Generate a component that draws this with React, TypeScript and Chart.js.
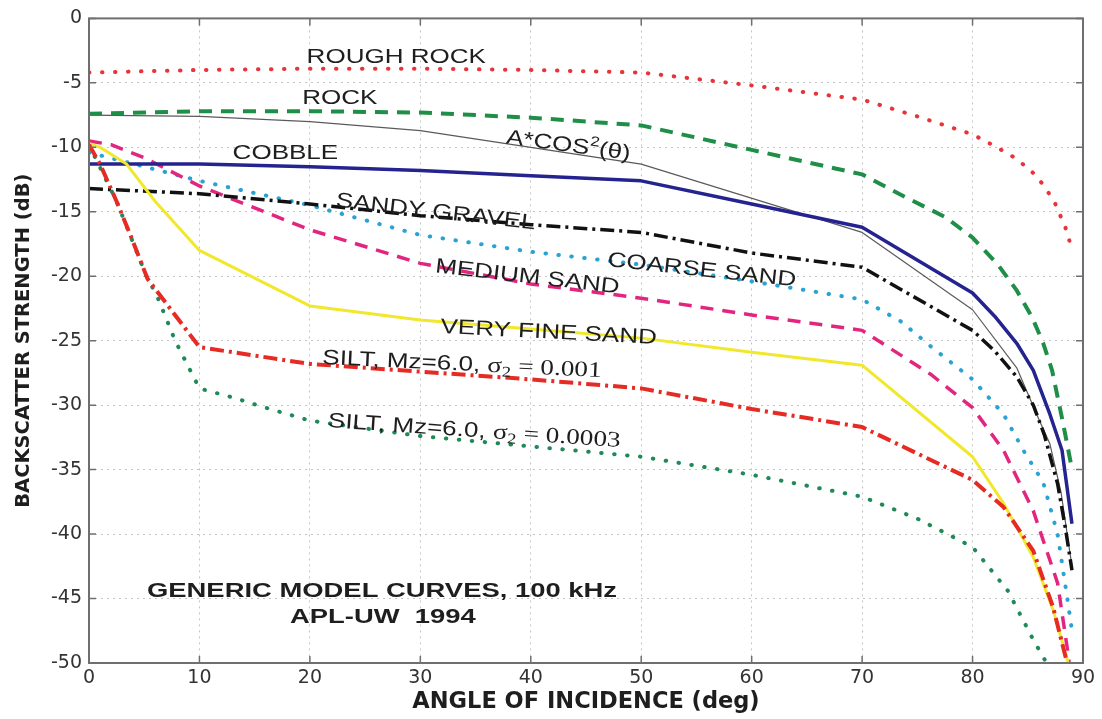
import React, { useEffect, useRef } from "react";
import { Chart, registerables } from "chart.js";

Chart.register(...registerables);

// ---- axes ----
const xTickValues = [0, 10, 20, 30, 40, 50, 60, 70, 80, 90];
const yTickValues = [0, -5, -10, -15, -20, -25, -30, -35, -40, -45, -50];

// ---- series (angle in deg, backscatter strength in dB) ----
const roughRockAngle = [0, 10, 20, 30, 40, 50, 60, 70, 75, 80, 82, 84, 85.5, 86.5, 87.5, 88.4, 89];
const roughRockDb = [-4.2, -4.0, -3.9, -3.9, -4.0, -4.2, -5.2, -6.3, -7.6, -9.0, -9.9, -10.9, -12.0, -13.0, -14.4, -16.2, -17.9];

const rockAngle = [0, 10, 20, 30, 40, 50, 60, 70, 74, 77.5, 80, 82.3, 84, 85.4, 86.4, 87.2, 88.1, 88.9];
const rockDb = [-7.4, -7.2, -7.2, -7.3, -7.7, -8.3, -10.2, -12.1, -13.9, -15.4, -17.0, -19.1, -21.1, -23.2, -25.2, -27.3, -31.0, -34.5];

const cosAngle = [0, 10, 20, 30, 50, 70, 80, 84, 86, 87, 88, 89];
const cosDb = [-7.5, -7.6, -8.0, -8.7, -11.3, -16.6, -22.6, -27.1, -31.1, -33.0, -36.7, -42.5];

const cobbleAngle = [0, 10, 20, 30, 40, 50, 60, 70, 80, 82, 84, 85.5, 87, 88.1, 89];
const cobbleDb = [-11.3, -11.3, -11.5, -11.8, -12.2, -12.6, -14.4, -16.2, -21.3, -23.1, -25.2, -27.3, -30.7, -33.5, -39.2];

const sandyGravelAngle = [0, 10, 20, 30, 40, 50, 60, 70, 80, 82, 84, 85.5, 86.5, 87.7, 88.4, 89];
const sandyGravelDb = [-13.2, -13.6, -14.4, -15.3, -16.0, -16.6, -18.2, -19.3, -24.2, -25.8, -27.8, -30.0, -32.3, -36.1, -39.5, -42.8];

const coarseSandAngle = [0, 10, 20, 30, 40, 50, 60, 70, 73.5, 76.3, 80, 82.8, 84.6, 86.4, 87.7, 88.6, 89];
const coarseSandDb = [-10.4, -12.6, -14.5, -16.8, -18.1, -19.1, -20.4, -21.8, -23.5, -25.5, -28.0, -30.7, -33.5, -36.0, -40.0, -45.1, -47.5];

const mediumSandAngle = [0, 2, 5, 10, 20, 30, 40, 50, 60, 70, 76.2, 80, 82.8, 85.5, 87.7, 88.6, 89.2];
const mediumSandDb = [-9.5, -9.8, -10.8, -13.0, -16.4, -19.0, -20.6, -21.7, -23.0, -24.2, -27.6, -30.2, -33.5, -38.2, -43.8, -49.0, -53.0];

const veryFineSandAngle = [0, 1, 3.4, 6, 10, 20, 30, 40, 50, 60, 70, 80, 82.8, 85.5, 87.3, 88.6, 89.2];
const veryFineSandDb = [-9.7, -10.0, -11.3, -14.2, -18.0, -22.3, -23.4, -24.1, -24.8, -25.9, -26.9, -34.0, -37.6, -41.8, -45.9, -49.8, -53.0];

const silt001Angle = [0, 1, 2.5, 3.7, 5.3, 10, 20, 30, 40, 50, 60, 70, 80, 82.8, 85.5, 87.3, 88.5, 89.2];
const silt001Db = [-9.8, -11.3, -14.2, -16.7, -20.2, -25.5, -26.8, -27.4, -28.0, -28.7, -30.3, -31.7, -35.8, -37.9, -41.3, -45.7, -49.8, -53.0];

const silt0003Angle = [0, 2.5, 5.3, 6.1, 7.8, 10, 13, 16, 20, 30, 40, 50, 60, 70, 75, 80, 83.2, 85.5, 86.7, 87.3];
const silt0003Db = [-9.8, -14.2, -20.2, -21.4, -25.0, -28.7, -29.4, -30.2, -31.2, -32.4, -33.2, -34.0, -35.4, -37.1, -38.8, -41.0, -44.4, -48.2, -50.0, -52.0];

// ---- text annotations (anchored at left baseline, in data coordinates) ----
const SANS = '"Liberation Sans", Arial, sans-serif';
const SERIF = '"Liberation Serif", "Times New Roman", serif';

type Part = { text: string; font: string; dy?: number };
type Note = { parts: Part[]; angle: number; db: number; rot: number; stretch: number };

const normal = (t: string): Part => ({ text: t, font: `21px ${SANS}` });
const bold = (t: string): Part => ({ text: t, font: `bold 20px ${SANS}` });

const notes: Note[] = [
  { parts: [normal("ROUGH ROCK")], angle: 19.7, db: -3.45, rot: 0, stretch: 1.24 },
  { parts: [normal("ROCK")], angle: 19.3, db: -6.65, rot: 0, stretch: 1.24 },
  { parts: [normal("COBBLE")], angle: 13.0, db: -10.9, rot: 0, stretch: 1.24 },
  {
    parts: [normal("A*COS"), { text: "2", font: `14px ${SANS}`, dy: -9 }, normal("(θ)")],
    angle: 37.7, db: -9.7, rot: 7.5, stretch: 1.24,
  },
  { parts: [normal("SANDY GRAVEL")], angle: 22.3, db: -14.6, rot: 6.5, stretch: 1.24 },
  { parts: [normal("COARSE SAND")], angle: 46.9, db: -19.2, rot: 6.2, stretch: 1.24 },
  { parts: [normal("MEDIUM SAND")], angle: 31.3, db: -19.7, rot: 6.5, stretch: 1.24 },
  { parts: [normal("VERY FINE SAND")], angle: 31.8, db: -24.4, rot: 2.9, stretch: 1.24 },
  {
    parts: [
      normal("SILT, Mz=6.0, "),
      { text: "σ", font: `22px ${SERIF}` },
      { text: "2", font: `15px ${SERIF}`, dy: 4 },
      { text: " = 0.001", font: `22px ${SERIF}` },
    ],
    angle: 21.1, db: -26.8, rot: 2.7, stretch: 1.24,
  },
  {
    parts: [
      normal("SILT, Mz=6.0, "),
      { text: "σ", font: `22px ${SERIF}` },
      { text: "2", font: `15px ${SERIF}`, dy: 4 },
      { text: " = 0.0003", font: `22px ${SERIF}` },
    ],
    angle: 21.6, db: -31.7, rot: 3.9, stretch: 1.24,
  },
  { parts: [bold("GENERIC MODEL CURVES, 100 kHz")], angle: 5.25, db: -44.9, rot: 0, stretch: 1.37 },
  { parts: [bold("APL-UW  1994")], angle: 18.2, db: -46.9, rot: 0, stretch: 1.37 },
];

const pts = (a: number[], v: number[]) => a.map((x, i) => ({ x, y: v[i] }));

const DOT = [0.5, 12.5];
const DASH = [13, 9];
const DASHDOT = [14, 5, 3, 5];

const framePlugin = {
  id: "frameTicks",
  afterDatasetsDraw(chart: any) {
    const { ctx, chartArea } = chart;
    const { left, right, top, bottom } = chartArea;
    const xs = chart.scales.x;
    const ys = chart.scales.y;
    ctx.save();
    ctx.strokeStyle = "#6f6f6f";
    ctx.lineWidth = 1.5;
    ctx.setLineDash([]);
    ctx.beginPath();
    for (const v of xTickValues) {
      const p = xs.getPixelForValue(v);
      ctx.moveTo(p, bottom);
      ctx.lineTo(p, bottom - 7);
      ctx.moveTo(p, top);
      ctx.lineTo(p, top + 7);
    }
    for (const v of yTickValues) {
      const p = ys.getPixelForValue(v);
      ctx.moveTo(left, p);
      ctx.lineTo(left + 7, p);
      ctx.moveTo(right, p);
      ctx.lineTo(right - 7, p);
    }
    ctx.stroke();
    ctx.lineWidth = 2;
    ctx.strokeRect(left, top, right - left, bottom - top);
    ctx.restore();
  },
};

const notesPlugin = {
  id: "notes",
  afterDraw(chart: any) {
    const { ctx } = chart;
    const xs = chart.scales.x;
    const ys = chart.scales.y;
    for (const n of notes) {
      const px = xs.getPixelForValue(n.angle);
      const py = ys.getPixelForValue(n.db);
      ctx.save();
      ctx.translate(px, py);
      ctx.rotate((n.rot * Math.PI) / 180);
      ctx.scale(n.stretch, 1);
      ctx.fillStyle = "#1e1e1e";
      ctx.textAlign = "left";
      ctx.textBaseline = "alphabetic";
      let cx = 0;
      for (const part of n.parts) {
        ctx.font = part.font;
        ctx.fillText(part.text, cx, part.dy || 0);
        cx += ctx.measureText(part.text).width;
      }
      ctx.restore();
    }
  },
};

export default function App() {
  const canvasRef = useRef<HTMLCanvasElement | null>(null);

  useEffect(() => {
    if (!canvasRef.current) return;
    const line = (
      label: string,
      a: number[],
      v: number[],
      color: string,
      width: number,
      dash: number[],
      cap: "butt" | "round" = "butt"
    ) => ({
      label,
      data: pts(a, v),
      borderColor: color,
      backgroundColor: color,
      borderWidth: width,
      borderDash: dash,
      borderCapStyle: cap,
      borderJoinStyle: "round" as const,
      pointRadius: 0,
      pointHoverRadius: 0,
      fill: false,
      tension: 0,
    });

    const chart = new Chart(canvasRef.current, {
      type: "line",
      data: {
        datasets: [
          line("Silt, σ2 = 0.001", silt001Angle, silt001Db, "#e62a24", 4, DASHDOT),
          line("Very fine sand", veryFineSandAngle, veryFineSandDb, "#f1e82c", 3, []),
          line("Silt, σ2 = 0.0003", silt0003Angle, silt0003Db, "#1f8a58", 4, DOT, "round"),
          line("Cobble", cobbleAngle, cobbleDb, "#25238f", 3.5, []),
          line("Sandy gravel", sandyGravelAngle, sandyGravelDb, "#111111", 3.5, DASHDOT),
          line("Medium sand", mediumSandAngle, mediumSandDb, "#e2267f", 3.5, DASH),
          line("Coarse sand", coarseSandAngle, coarseSandDb, "#2aa3d4", 4, DOT, "round"),
          line("Rough rock", roughRockAngle, roughRockDb, "#e8333b", 4, DOT, "round"),
          line("Rock", rockAngle, rockDb, "#1f8f48", 4, DASH),
          line("A*cos²(θ)", cosAngle, cosDb, "#5a5a5a", 1.2, []),
        ],
      },
      options: {
        animation: false,
        responsive: true,
        maintainAspectRatio: false,
        layout: { padding: { top: 17, right: 19, left: 0, bottom: 0 } },
        plugins: { legend: { display: false }, tooltip: { enabled: false } },
        scales: {
          x: {
            type: "linear",
            min: 0,
            max: 90,
            afterFit: (s: any) => {
              s.height = 56;
            },
            ticks: {
              stepSize: 10,
              padding: 4,
              color: "#333",
              font: { family: "DejaVu Sans", size: 19 },
            },
            grid: { color: "#c4c4c4", lineWidth: 1, drawTicks: false },
            border: { display: false, dash: [2, 4] },
            title: {
              display: true,
              text: "ANGLE OF INCIDENCE (deg)",
              color: "#1e1e1e",
              font: { family: "DejaVu Sans", size: 22.5, weight: "bold" },
              padding: { top: 0, bottom: 3 },
            },
          },
          y: {
            type: "linear",
            min: -50,
            max: 0,
            afterFit: (s: any) => {
              s.width = 89;
            },
            ticks: {
              stepSize: 5,
              padding: 7,
              color: "#333",
              font: { family: "DejaVu Sans", size: 19 },
            },
            grid: { color: "#c4c4c4", lineWidth: 1, drawTicks: false },
            border: { display: false, dash: [2, 4] },
            title: {
              display: true,
              text: "BACKSCATTER STRENGTH (dB)",
              color: "#1e1e1e",
              font: { family: "DejaVu Sans", size: 19.5, weight: "bold" },
              padding: { top: 12, bottom: 0 },
            },
          },
        },
      },
      plugins: [framePlugin, notesPlugin],
    });
    return () => chart.destroy();
  }, []);

  return (
    <div style={{ position: "absolute", left: 0, top: 0, width: 1102, height: 719, background: "#fff" }}>
      <canvas ref={canvasRef} />
    </div>
  );
}
